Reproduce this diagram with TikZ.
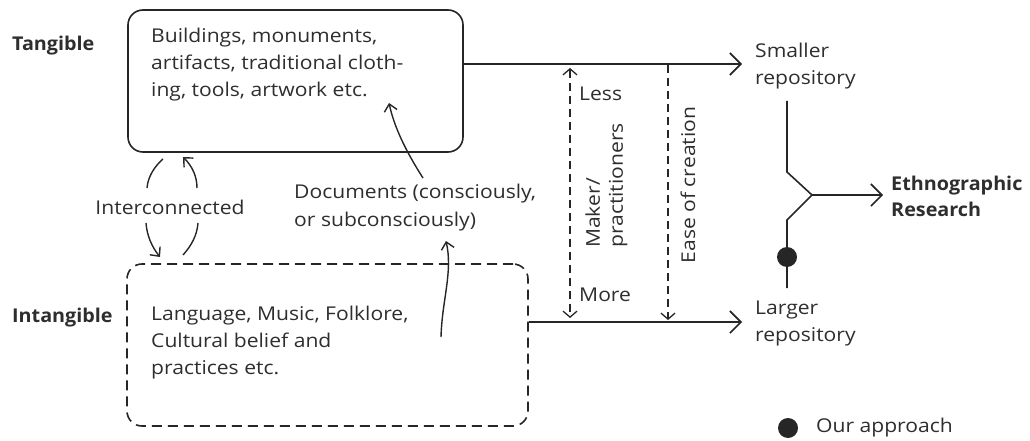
\documentclass[tikz,border=0pt]{standalone}
\usepackage{fontspec}
\setmainfont{Open Sans}[FakeStretch=1.11, BoldFeatures={FakeStretch=1.04}]
\usetikzlibrary{arrows.meta}
\definecolor{ink}{HTML}{262626}
\definecolor{txt}{HTML}{2E2E2E}
\tikzset{
  every node/.style={text=txt, inner sep=0pt, font=\fontsize{19}{27}\selectfont},
  lbl/.style={align=left, anchor=west},
  boldlbl/.style={align=left, anchor=west, font=\fontsize{19}{26}\selectfont\bfseries},
  solidbox/.style={draw=ink, line width=1.6pt, rounded corners=15pt},
  dashbox/.style={draw=ink, line width=1.6pt, rounded corners=15pt, dash pattern=on 10pt off 6pt},
  conn/.style={draw=ink, line width=1.6pt},
  bigtip/.style={-{Straight Barb[length=11pt,width=22pt,line width=1.6pt]}},
  smalltip/.style={-{Straight Barb[length=7pt,width=13pt,line width=1.4pt]}},
  gaugeline/.style={draw=ink, line width=1.3pt, dash pattern=on 8pt off 5pt},
  arcline/.style={draw=ink, line width=1.4pt},
  blob/.style={circle, fill=ink, minimum size=20pt}
}
\begin{document}
\begin{tikzpicture}[x=1pt, y=-1pt]
\useasboundingbox (0,0) rectangle (1030,441);

% the two kinds of heritage
\node[solidbox, minimum width=335pt, minimum height=142pt] (tang) at (295.5,81) {};
\node[dashbox, minimum width=401pt, minimum height=162pt] (intang) at (327.5,345) {};
\node[lbl] (tangtxt) at (151,65) {Buildings, monuments,\\artifacts, traditional cloth-\\ing, tools, artwork etc.};
\node[lbl] (intangtxt) at (151,343) {Language, Music, Folklore,\\Cultural belief and\\practices etc.};
\node[boldlbl] (tanglbl) at (12,46) {Tangible};
\node[boldlbl] (intanglbl) at (12,318) {Intangible};

% links between the boxes
\node (inter) at (170,207) {Interconnected};
\node[lbl, font=\fontsize{19}{28}\selectfont] (docs) at (294,208) {Documents (consciously,\\or subconsciously)};

\coordinate (ia1) at (147,188); \coordinate (ia2) at (163,159);
\coordinate (ib1) at (197,188); \coordinate (ib2) at (183,157);
\coordinate (ic1) at (146,223); \coordinate (ic2) at (160,257);
\coordinate (id1) at (198,223); \coordinate (id2) at (183,255);
\draw[arcline] (ia1) .. controls (148,176) and (155,166) .. (ia2);
\draw[arcline, smalltip] (ib1) .. controls (197,176) and (192,166) .. (ib2);
\draw[arcline, smalltip] (ic1) .. controls (147,236) and (152,247) .. (ic2);
\draw[arcline] (id1) .. controls (197,236) and (191,246) .. (id2);

\coordinate (da1) at (423,178); \coordinate (da2) at (389,103);
\coordinate (db1) at (441,337); \coordinate (db2) at (446,241);
\draw[arcline, smalltip] (da1) .. controls (405,150) and (394,126) .. (da2);
\draw[arcline, smalltip] (db1) .. controls (442,300) and (453,272) .. (db2);

% repositories
\node[lbl] (smaller) at (755,66) {Smaller\\repository};
\node[lbl] (larger) at (755,323) {Larger\\repository};
\draw[conn, bigtip] (tang.east |- 0,64) -- ([xshift=-13pt]smaller.west |- 0,64);
\draw[conn, bigtip] (intang.east |- 0,322) -- ([xshift=-13pt]larger.west |- 0,322);

% scales between the two flows
\coordinate (mkt) at (570,68); \coordinate (mkb) at (570,318);
\coordinate (eat) at (668,65); \coordinate (eab) at (668,320);
\draw[gaugeline, {Straight Barb[length=6pt,width=14pt,line width=1.3pt]}-{Straight Barb[length=6pt,width=14pt,line width=1.3pt]}] (mkt) -- (mkb);
\draw[gaugeline, -{Straight Barb[length=6pt,width=14pt,line width=1.3pt]}] (eat) -- (eab);
\node[lbl] (less) at (579,94) {Less};
\node[lbl] (more) at (579,295) {More};
\node[rotate=90, anchor=west, align=left, font=\fontsize{19}{23}\selectfont] (maker) at (606.5,248) {Maker/\\practitioners};
\node[rotate=90] (ease) at (688,185) {Ease of creation};

% merge into research
\coordinate (yt) at (787,101); \coordinate (yb) at (787,288);
\coordinate (yj) at (812,195);
\node[boldlbl] (ethno) at (891,196) {Ethnographic\\Research};
\draw[conn] (yt) -- (787,172) -- (yj) -- (787,220) -- (yb);
\draw[conn, bigtip] (yj) -- ([xshift=-8pt]ethno.west |- yj);
\node[blob] (ours) at (787,257) {};

% legend
\node[blob] (legdot) at (788,428) {};
\node[lbl] (legtxt) at (816,428) {Our approach};
\end{tikzpicture}
\end{document}
